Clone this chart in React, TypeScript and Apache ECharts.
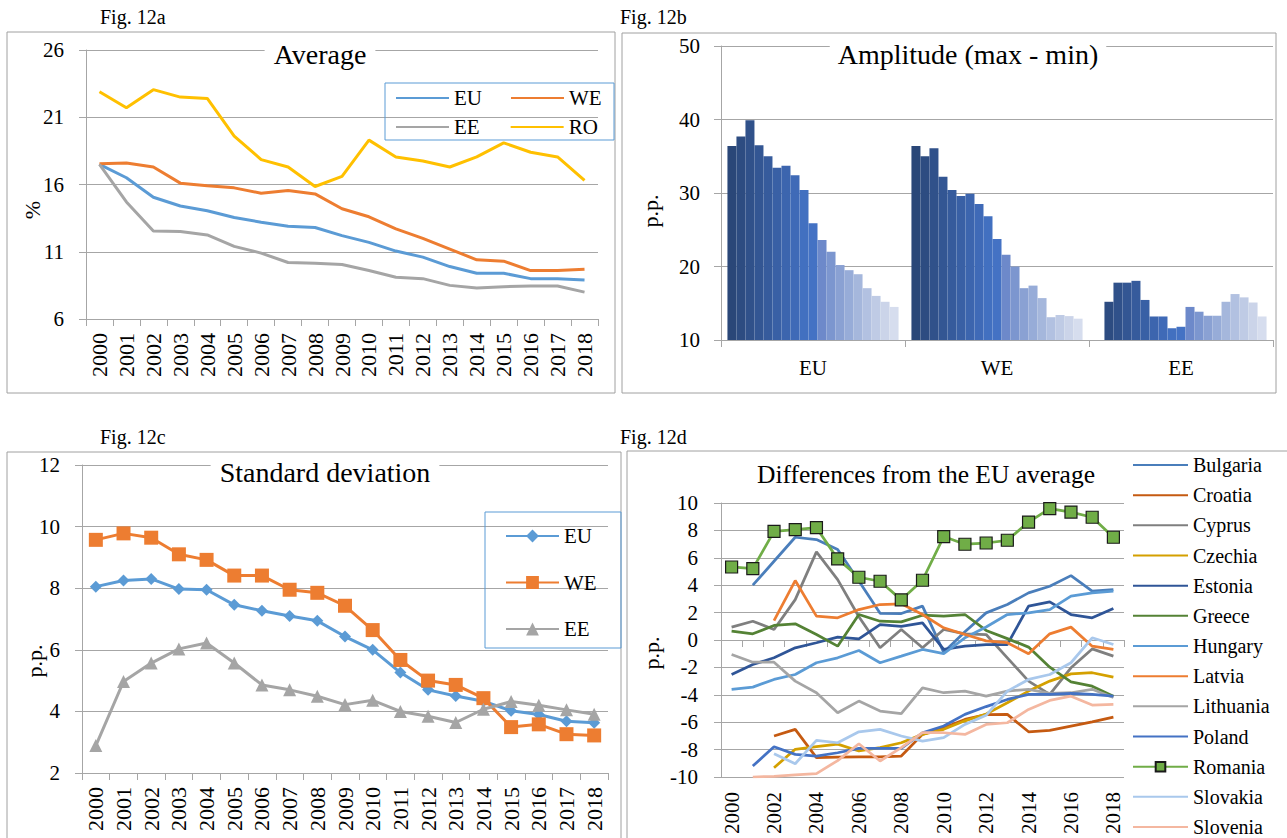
import React, { useEffect, useRef } from 'react';
import * as echarts from 'echarts';

// ---------- data ----------
const years = ['2000', '2001', '2002', '2003', '2004', '2005', '2006', '2007', '2008', '2009', '2010', '2011', '2012', '2013', '2014', '2015', '2016', '2017', '2018'];

// Fig. 12a – Average (%)
const avgEU = [17.5, 16.5, 15.05, 14.4, 14.05, 13.55, 13.2, 12.9, 12.8, 12.2, 11.7, 11.05, 10.6, 9.9, 9.4, 9.4, 9.0, 9.0, 8.9];
const avgWE = [17.55, 17.6, 17.3, 16.1, 15.9, 15.75, 15.35, 15.55, 15.3, 14.2, 13.6, 12.7, 12.0, 11.2, 10.4, 10.3, 9.6, 9.6, 9.7];
const avgEE = [17.5, 14.7, 12.55, 12.5, 12.25, 11.4, 10.9, 10.2, 10.15, 10.05, 9.6, 9.1, 9.0, 8.5, 8.3, 8.4, 8.45, 8.45, 8.0];
const avgRO = [22.9, 21.7, 23.05, 22.5, 22.4, 19.6, 17.85, 17.3, 15.85, 16.6, 19.3, 18.05, 17.75, 17.3, 18.05, 19.1, 18.4, 18.05, 16.3];

// Fig. 12b – Amplitude (max - min), p.p.
const ampGroups = ['EU', 'WE', 'EE'];
const ampEU = [36.4, 37.7, 39.9, 36.5, 35.0, 33.45, 33.7, 32.4, 30.4, 25.9, 23.6, 22.0, 20.2, 19.5, 18.95, 17.05, 16.0, 15.2, 14.5];
const ampWE = [36.4, 35.0, 36.1, 32.2, 30.4, 29.6, 29.9, 28.5, 26.85, 23.75, 21.6, 20.0, 17.05, 17.4, 15.7, 13.1, 13.4, 13.25, 12.9];
const ampEE = [null, 15.2, 17.8, 17.8, 18.05, 15.45, 13.2, 13.2, 11.6, 11.8, 14.5, 13.85, 13.3, 13.3, 15.2, 16.25, 15.8, 15.1, 13.2];

// Fig. 12c – Standard deviation, p.p.
const sdEU = [8.05, 8.25, 8.3, 7.97, 7.95, 7.46, 7.27, 7.1, 6.94, 6.43, 6.0, 5.26, 4.7, 4.5, 4.33, 4.02, 3.9, 3.68, 3.63];
const sdWE = [9.57, 9.78, 9.64, 9.1, 8.92, 8.41, 8.41, 7.95, 7.85, 7.43, 6.64, 5.67, 5.0, 4.86, 4.43, 3.49, 3.58, 3.26, 3.22];
const sdEE = [2.89, 4.97, 5.57, 6.03, 6.22, 5.57, 4.86, 4.7, 4.49, 4.22, 4.36, 4.0, 3.84, 3.64, 4.07, 4.32, 4.2, 4.05, 3.91];

// Fig. 12d – Differences from the EU average, p.p.
const countries = ['Bulgaria', 'Croatia', 'Cyprus', 'Czechia', 'Estonia', 'Greece', 'Hungary', 'Latvia', 'Lithuania', 'Poland', 'Romania', 'Slovakia', 'Slovenia'];
const dBulgaria = [null, 4.0, 5.75, 7.5, 7.33, 6.6, 4.3, 1.95, 1.93, 2.47, -0.9, 0.6, 1.98, 2.59, 3.44, 3.92, 4.7, 3.56, 3.68];
const dCroatia = [null, null, -7.01, -6.52, -8.59, -8.55, -8.54, -8.54, -8.47, -6.89, -6.4, -5.8, -5.45, -5.43, -6.7, -6.6, -6.28, -5.97, -5.63];
const dCyprus = [0.94, 1.37, 0.77, 2.95, 6.43, 4.41, 1.7, -0.57, 0.77, -0.57, 0.77, 0.45, 0.4, -1.3, -3.0, -3.97, -2.03, -0.65, -1.18];
const dCzechia = [null, null, -9.32, -7.98, -7.79, -7.6, -8.1, -7.86, -7.5, -6.89, -6.52, -5.9, -5.4, -4.58, -3.73, -3.0, -2.47, -2.39, -2.71];
const dEstonia = [-2.52, -1.79, -1.3, -0.57, -0.2, 0.21, 0.09, 1.13, 1.0, 1.25, -0.69, -0.45, -0.33, -0.33, 2.47, 2.78, 1.86, 1.62, 2.3];
const dGreece = [0.64, 0.45, 1.06, 1.18, 0.4, -0.45, 1.86, 1.37, 1.32, 1.81, 1.74, 1.86, 0.7, 0.1, -0.52, -1.98, -3.05, -3.37, -4.1];
const dHungary = [-3.61, -3.44, -2.88, -2.52, -1.66, -1.3, -0.77, -1.66, -1.18, -0.69, -1.0, 0.16, 0.95, 1.86, 1.98, 2.22, 3.2, 3.44, 3.56];
const dLatvia = [null, null, 1.42, 4.34, 1.74, 1.62, 2.22, 2.59, 2.64, 1.86, 0.89, 0.4, -0.06, -0.2, -1.0, 0.45, 0.94, -0.45, -0.69];
const dLithuania = [-1.06, -1.62, -1.62, -3.0, -3.85, -5.31, -4.46, -5.19, -5.38, -3.49, -3.85, -3.73, -4.1, -3.73, -3.6, -3.9, -3.85, -3.6, -4.2];
const dPoland = [null, -9.2, -7.79, -8.35, -8.47, -8.23, -7.91, -7.91, -7.91, -6.77, -6.28, -5.43, -4.86, -4.34, -3.97, -3.97, -3.9, -3.97, -4.1];
const dRomania = [5.33, 5.21, 7.93, 8.06, 8.2, 5.92, 4.58, 4.29, 2.93, 4.36, 7.55, 6.99, 7.08, 7.28, 8.61, 9.59, 9.34, 8.96, 7.5];
const dSlovakia = [null, null, -8.3, -9.03, -7.33, -7.5, -6.7, -6.52, -7.01, -7.38, -7.13, -6.16, -5.5, -3.73, -2.88, -2.52, -1.66, 0.16, -0.33];
const dSlovenia = [null, -10.0, -9.95, -9.85, -9.75, -8.8, -7.57, -8.83, -7.86, -6.77, -6.77, -6.89, -6.16, -6.04, -5.07, -4.41, -4.1, -4.75, -4.7];

const diffData = [dBulgaria, dCroatia, dCyprus, dCzechia, dEstonia, dGreece, dHungary, dLatvia, dLithuania, dPoland, dRomania, dSlovakia, dSlovenia];

// ---------- styles ----------
const FONT = '"Liberation Serif", "Times New Roman", serif';
const GRID_C = '#A6A6A6';
const BOX_C = '#A0A0A0';
const LEG_BORDER = '#5B9BD5';
const barColors = ['#2A4778', '#2D4C81', '#30518A', '#335693', '#365B9C', '#3960A5', '#3C65AE', '#3F6AB7', '#4270C0', '#4472C4', '#6D89CA', '#7C96CF', '#8AA1D3', '#97ACD8', '#A5B7DC', '#B2C1E1', '#BFCBE5', '#CBD4E9', '#D6DDEE'];
const countryColors = ['#4A7EBB', '#C55A11', '#7F7F7F', '#D4A000', '#2F5597', '#548235', '#5B9BD5', '#ED7D31', '#A5A5A5', '#4472C4', '#70AD47', '#A9C8EC', '#F4B7A0'];

function yearAxis(gridIndex: number) {
  return {
    type: 'category', gridIndex, data: years, boundaryGap: true,
    axisLine: { show: true, onZero: false, lineStyle: { color: GRID_C, width: 1 } },
    axisTick: { show: true, length: 7, interval: 0, lineStyle: { color: GRID_C } },
    axisLabel: { rotate: 90, interval: 0, margin: 14, fontSize: 22, color: '#000', fontFamily: FONT },
    splitLine: { show: false },
  };
}

function valAxis(gridIndex: number, min: number, max: number, interval: number, margin: number) {
  return {
    type: 'value', gridIndex, min, max, interval,
    axisLine: { show: true, lineStyle: { color: GRID_C, width: 1 } },
    axisTick: { show: true, length: 7, lineStyle: { color: GRID_C } },
    axisLabel: { margin, fontSize: 21, color: '#000', fontFamily: FONT },
    splitLine: { show: true, lineStyle: { color: GRID_C, width: 1 } },
  };
}

function txt(x: number, y: number, text: string, fontSize: number, extra: any = {}) {
  return {
    type: 'text', x, y, z: 50,
    style: { text, fontSize, fontFamily: FONT, fill: '#000', align: 'center', verticalAlign: 'middle', ...extra.style },
    ...(extra.rotation ? { rotation: extra.rotation } : {}),
  };
}

function figLabel(x: number, y: number, text: string) {
  return { type: 'text', x, y, z: 50, style: { text, fontSize: 20, fontFamily: FONT, fill: '#000', align: 'left', verticalAlign: 'middle' } };
}

function boxRect(x: number, y: number, w: number, h: number, color: string) {
  return { type: 'rect', z: 1, shape: { x, y, width: w, height: h }, style: { fill: 'none', stroke: color, lineWidth: 1 } };
}

export default function App() {
  const ref = useRef<HTMLDivElement>(null);

  useEffect(() => {
    if (!ref.current) return;
    const chart = echarts.init(ref.current, undefined, { renderer: 'svg' });

    const legendText = { fontSize: 21, fontFamily: FONT, color: '#000', lineHeight: 22 };

    const seriesA = [
      { name: 'EU', data: avgEU, color: '#5B9BD5' },
      { name: 'WE', data: avgWE, color: '#ED7D31' },
      { name: 'EE', data: avgEE, color: '#A5A5A5' },
      { name: 'RO', data: avgRO, color: '#FFC000' },
    ].map((s) => ({
      type: 'line', name: s.name, data: s.data, xAxisIndex: 0, yAxisIndex: 0,
      symbol: 'none', lineStyle: { width: 3, color: s.color }, itemStyle: { color: s.color },
    }));

    const seriesB = years.map((y, i) => ({
      type: 'bar', name: 'amp' + y, xAxisIndex: 1, yAxisIndex: 1,
      data: [ampEU[i], ampWE[i], ampEE[i]],
      barGap: '0%', barCategoryGap: '7%',
      itemStyle: { color: barColors[i] },
    }));

    const seriesC = [
      { name: 'sd-EU', data: sdEU, color: '#5B9BD5', symbol: 'diamond', size: 12 },
      { name: 'sd-WE', data: sdWE, color: '#ED7D31', symbol: 'rect', size: 14 },
      { name: 'sd-EE', data: sdEE, color: '#A5A5A5', symbol: 'triangle', size: 13 },
    ].map((s) => ({
      type: 'line', name: s.name, data: s.data, xAxisIndex: 2, yAxisIndex: 2,
      symbol: s.symbol, symbolSize: s.size, showSymbol: true,
      lineStyle: { width: 3, color: s.color }, itemStyle: { color: s.color },
    }));

    const seriesD = countries.map((c, i) => {
      const isRo = c === 'Romania';
      return {
        type: 'line', name: c, data: diffData[i], xAxisIndex: 3, yAxisIndex: 3,
        symbol: isRo ? 'rect' : 'none', symbolSize: 12, showSymbol: isRo,
        lineStyle: { width: 2.75, color: countryColors[i] },
        itemStyle: isRo ? { color: countryColors[i], borderColor: '#1a1a1a', borderWidth: 1.2 } : { color: countryColors[i] },
      };
    });

    const option: any = {
      animation: false,
      textStyle: { fontFamily: FONT },
      grid: [
        { left: 86, top: 50, width: 512, height: 269, containLabel: false, outerBoundsMode: 'none' },
        { left: 721, top: 46, width: 552, height: 294, containLabel: false, outerBoundsMode: 'none' },
        { left: 82, top: 465, width: 526, height: 308, containLabel: false, outerBoundsMode: 'none' },
        { left: 721, top: 503, width: 403, height: 274, containLabel: false, outerBoundsMode: 'none' },
      ],
      xAxis: [
        yearAxis(0),
        {
          type: 'category', gridIndex: 1, data: ampGroups, boundaryGap: true,
          axisLine: { show: true, onZero: false, lineStyle: { color: GRID_C } },
          axisTick: { show: true, length: 7, interval: 0, lineStyle: { color: GRID_C } },
          axisLabel: { margin: 17, fontSize: 21, color: '#000', fontFamily: FONT },
          splitLine: { show: false },
        },
        yearAxis(2),
        {
          type: 'category', gridIndex: 3, data: years, boundaryGap: true, position: 'bottom',
          axisLine: { show: false, onZero: false },
          axisTick: { show: false },
          axisLabel: { rotate: 90, interval: 1, margin: 15, fontSize: 21, color: '#000', fontFamily: FONT },
          splitLine: { show: false },
        },
        {
          type: 'category', gridIndex: 3, data: years, boundaryGap: true, position: 'bottom',
          axisLine: { show: true, onZero: true, lineStyle: { color: GRID_C } },
          axisTick: { show: true, length: 7, interval: 0, lineStyle: { color: GRID_C } },
          axisLabel: { show: false },
          splitLine: { show: false },
        },
      ],
      yAxis: [
        valAxis(0, 6, 26, 5, 22),
        valAxis(1, 10, 50, 10, 21),
        valAxis(2, 2, 12, 2, 22),
        valAxis(3, -10, 10, 2, 23),
      ],
      legend: [
        {
          data: [{ name: 'EU' }, { name: 'WE' }], left: 395, top: 87, orient: 'horizontal', padding: 0,
          itemWidth: 53, itemHeight: 12, itemGap: 28, textStyle: legendText, itemStyle: { opacity: 0 },
          selectedMode: false,
        },
        {
          data: [{ name: 'EE' }, { name: 'RO' }], left: 395, top: 116, orient: 'horizontal', padding: 0,
          itemWidth: 53, itemHeight: 12, itemGap: 30, textStyle: legendText, itemStyle: { opacity: 0 },
          selectedMode: false,
        },
        {
          data: ['sd-EU', 'sd-WE', 'sd-EE'], left: 505, top: 525, orient: 'vertical', padding: 0,
          itemWidth: 53, itemHeight: 16, itemGap: 24.5, textStyle: legendText,
          formatter: (n: string) => n.replace('sd-', ''), selectedMode: false,
        },
        {
          data: countries.map((c) => (c === 'Romania' ? { name: c } : { name: c, itemStyle: { opacity: 0 } })),
          left: 1132, top: 455, orient: 'vertical', padding: 0,
          itemWidth: 55, itemHeight: 12, itemGap: 10.17,
          textStyle: { fontSize: 20, fontFamily: FONT, color: '#000', lineHeight: 20 },
          selectedMode: false,
        },
      ],
      graphic: [
        boxRect(7, 32, 608, 361, BOX_C),
        boxRect(622, 33, 654, 360, BOX_C),
        boxRect(7, 452, 614, 400, BOX_C),
        boxRect(627, 451, 670, 400, BOX_C),
        boxRect(385, 83, 229, 57, LEG_BORDER),
        boxRect(485, 512, 136, 136, LEG_BORDER),
        figLabel(100, 17, 'Fig. 12a'),
        figLabel(620, 17, 'Fig. 12b'),
        figLabel(100, 437, 'Fig. 12c'),
        figLabel(620, 437, 'Fig. 12d'),
        txt(320, 54, 'Average', 28, { style: { backgroundColor: '#fff', padding: [2, 9] } }),
        txt(968, 54, 'Amplitude (max - min)', 28, { style: { backgroundColor: '#fff', padding: [2, 8] } }),
        txt(325, 472, 'Standard deviation', 28, { style: { backgroundColor: '#fff', padding: [2, 9] } }),
        txt(926, 474, 'Differences from the EU average', 25.5, { style: { backgroundColor: '#fff', padding: [2, 6] } }),
        txt(32, 210, '%', 22, { rotation: Math.PI / 2 }),
        txt(650, 211, 'p.p.', 22, { rotation: Math.PI / 2 }),
        txt(34, 661, 'p.p.', 22, { rotation: Math.PI / 2 }),
        txt(651, 653, 'p.p.', 22, { rotation: Math.PI / 2 }),
      ],
      series: [...seriesA, ...seriesB, ...seriesC, ...seriesD],
    };

    chart.setOption(option);
    return () => chart.dispose();
  }, []);

  return (
    <div style={{ position: 'fixed', left: 0, top: 0, width: 1287, height: 838, overflow: 'hidden', background: '#fff' }}>
      <div ref={ref} style={{ width: 1287, height: 860 }} />
    </div>
  );
}
